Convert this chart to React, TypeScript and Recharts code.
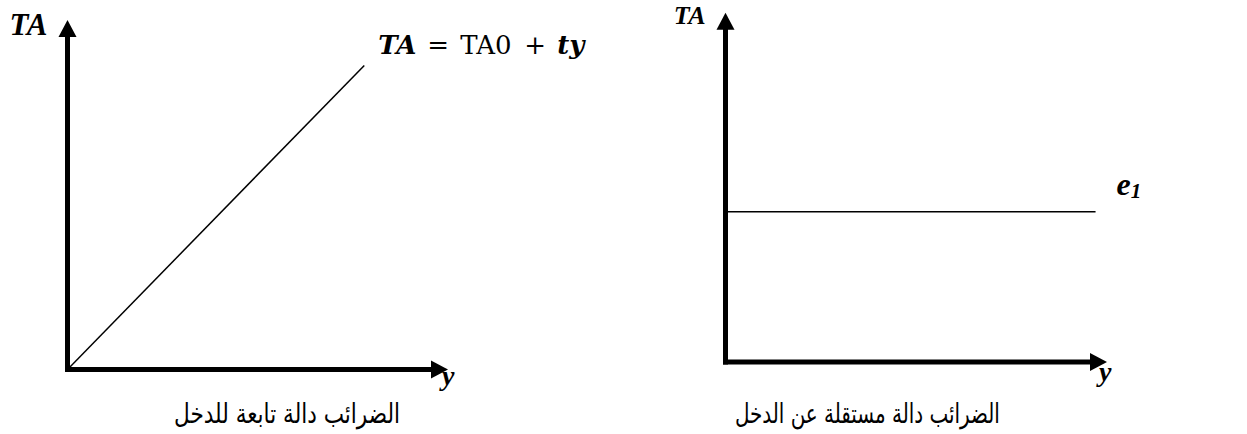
import React from 'react';
import { LineChart, Line, XAxis, YAxis, ReferenceLine, ReferenceDot } from 'recharts';

// Left panel: tax as a function of income
const incomeDependent = [0, 78];
const taxDependent = [0, 87];
// Right panel: tax independent of income
const incomeIndependent = [0, 97];
const taxIndependent = [43, 43];

const axisMax = 100;
const shaftEnd = 97;

const leftTitle = 'الضرائب دالة تابعة للدخل';
const rightTitle = 'الضرائب دالة مستقلة عن الدخل';
const yAxisName = 'TA';
const xAxisName = 'y';
const constantLabel = 'e';
const constantSub = '1';

const leftData = incomeDependent.map((x, i) => ({ x, tax: taxDependent[i] }));
const rightData = incomeIndependent.map((x, i) => ({ x, tax: taxIndependent[i] }));

const serif = '"Liberation Serif", "Times New Roman", serif';
const mathSerif = '"DejaVu Serif", serif';
const arabic = '"DejaVu Sans", sans-serif';

const ArrowUp = (p: any) => (
  <polygon points={`${p.cx},${p.cy} ${p.cx - 9},${p.cy + 17} ${p.cx + 9},${p.cy + 17}`} fill="#000" />
);
const ArrowRight = (p: any) => (
  <polygon points={`${p.cx},${p.cy} ${p.cx - 17},${p.cy - 9} ${p.cx - 17},${p.cy + 9}`} fill="#000" />
);

const textShape = (content: (cx: number, cy: number) => React.ReactNode) => (p: any) => (
  <g>{content(p.cx, p.cy)}</g>
);

function Panel({ data, side }: { data: { x: number; tax: number }[]; side: 'left' | 'right' }) {
  const isLeft = side === 'left';
  const width = isLeft ? 620 : 627;
  const margin = isLeft
    ? { top: 20, right: 172, bottom: 64.5, left: 67.5 }
    : { top: 12.7, right: 140, bottom: 72, left: 105.5 };
  return (
    <LineChart width={width} height={434} data={data} margin={margin}>
      <XAxis type="number" dataKey="x" domain={[0, axisMax]} hide allowDataOverflow />
      <YAxis type="number" domain={[0, axisMax]} hide allowDataOverflow />
      <ReferenceLine
        segment={[{ x: 0, y: 0 }, { x: 0, y: shaftEnd }]}
        stroke="#000"
        strokeWidth={5}
        strokeLinecap="square"
        ifOverflow="visible"
      />
      <ReferenceLine
        segment={[{ x: 0, y: 0 }, { x: shaftEnd, y: 0 }]}
        stroke="#000"
        strokeWidth={5}
        strokeLinecap="square"
        ifOverflow="visible"
      />
      <ReferenceDot x={0} y={axisMax} r={0} shape={ArrowUp} ifOverflow="visible" />
      <ReferenceDot x={axisMax} y={0} r={0} shape={ArrowRight} ifOverflow="visible" />
      <Line
        type="linear"
        dataKey="tax"
        stroke="#000"
        strokeWidth={1.5}
        dot={false}
        isAnimationActive={false}
      />
      {/* y-axis name */}
      <ReferenceDot
        x={0}
        y={axisMax}
        r={0}
        ifOverflow="visible"
        shape={textShape((cx, cy) => (
          <text
            x={cx - 20}
            y={isLeft ? cy + 15 : cy + 11.5}
            textAnchor="end"
            fontFamily={serif}
            fontWeight="bold"
            fontStyle="italic"
            fontSize={isLeft ? 31 : 26}
            fill="#000"
          >
            {yAxisName}
          </text>
        ))}
      />
      {/* x-axis name */}
      <ReferenceDot
        x={axisMax}
        y={0}
        r={0}
        ifOverflow="visible"
        shape={textShape((cx, cy) => (
          <text
            x={isLeft ? cx - 6 : cx - 8}
            y={isLeft ? cy + 15 : cy + 19}
            textAnchor="start"
            fontFamily={serif}
            fontWeight="bold"
            fontStyle="italic"
            fontSize={28}
            fill="#000"
          >
            {xAxisName}
          </text>
        ))}
      />
      {isLeft ? (
        <ReferenceDot
          x={incomeDependent[1]}
          y={taxDependent[1]}
          r={0}
          ifOverflow="visible"
          shape={textShape((cx, cy) => {
            const base = cy - 11.5;
            const x0 = cx + 14;
            return (
              <text y={base} fontFamily={mathSerif} fontSize={26} fill="#000">
                <tspan x={x0} fontWeight="bold" fontStyle="italic">TA</tspan>
                <tspan x={x0 + 49}>=</tspan>
                <tspan x={x0 + 82}>TA0</tspan>
                <tspan x={x0 + 146}>+</tspan>
                <tspan x={x0 + 179} fontWeight="bold" fontStyle="italic">ty</tspan>
              </text>
            );
          })}
        />
      ) : (
        <ReferenceDot
          x={incomeIndependent[1]}
          y={taxIndependent[1]}
          r={0}
          ifOverflow="visible"
          shape={textShape((cx, cy) => (
            <text
              x={cx + 21}
              y={cy - 17}
              fontFamily={serif}
              fontWeight="bold"
              fontStyle="italic"
              fontSize={32}
              fill="#000"
            >
              {constantLabel}
              <tspan fontSize={21} dy={3}>{constantSub}</tspan>
            </text>
          ))}
        />
      )}
      {/* caption */}
      <ReferenceDot
        x={isLeft ? 57.7 : 37.2}
        y={0}
        r={0}
        ifOverflow="visible"
        shape={textShape((cx, cy) => (
          <text
            x={cx}
            y={cy + (isLeft ? 53.5 : 61)}
            textAnchor="middle"
            fontFamily={arabic}
            fontSize={27}
            textLength={isLeft ? 226 : 265}
            lengthAdjust="spacingAndGlyphs"
            fill="#000"
            direction="rtl"
          >
            {isLeft ? leftTitle : rightTitle}
          </text>
        ))}
      />
    </LineChart>
  );
}

export default function App() {
  return (
    <div style={{ position: 'absolute', left: 0, top: 0, width: 1247, height: 434, background: '#fff' }}>
      <div style={{ position: 'absolute', left: 0, top: 0 }}>
        <Panel data={leftData} side="left" />
      </div>
      <div style={{ position: 'absolute', left: 620, top: 0 }}>
        <Panel data={rightData} side="right" />
      </div>
    </div>
  );
}
